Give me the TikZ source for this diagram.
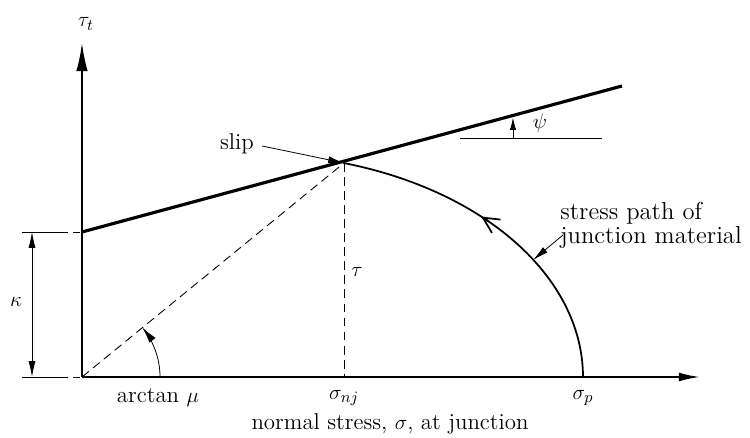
\documentclass[tikz,border=0pt]{standalone}
\usetikzlibrary{arrows.meta}
\begin{document}
\begin{tikzpicture}[x=0.02cm,y=-0.02cm,
  lbl/.style={inner sep=0pt,font=\fontsize{13}{15}\selectfont},
  axis/.style={line width=1.1pt},
  env/.style={line width=1.8pt},
  thin/.style={line width=0.45pt},
  dsh/.style={line width=0.5pt,dash pattern=on 5pt off 3pt},
  curve/.style={line width=1pt}]
\useasboundingbox (0,0) rectangle (750,438);
% key points
\coordinate (O) at (82,377);
\coordinate (Yt) at (82,43);
\coordinate (Xt) at (700,377);
\coordinate (A) at (82,232);
\coordinate (S) at (344,163);
\coordinate (E) at (622,86);
\coordinate (N) at (344,377);
\coordinate (P) at (583,377);
\coordinate (K1) at (22,232);
\coordinate (K2) at (22,377);
\coordinate (KA) at (32,232);
\coordinate (KB) at (32,377);
\coordinate (H1) at (460,138);
\coordinate (H2) at (602,138);
\coordinate (PsiB) at (513,138);
\coordinate (PsiT) at (513,117.5);
% axes
\draw[axis,-{Latex[length=16pt,width=6.5pt]}] (O) -- (Yt);
\draw[axis,-{Latex[length=12pt,width=5pt]}] (O) -- (Xt);
% envelope
\draw[env] (A) -- (E);
% dashed lines
\draw[dsh] (O) -- (S);
\draw[dsh] (S) -- (N);
% stress path (from sigma_p up to slip)
\draw[curve] plot[domain=0:73.6,samples=90,smooth] ({250+333*cos(\x)},{377-223*sin(\x)});
\coordinate (M1) at (488.9,221.5);
\coordinate (M2) at (481.3,216.6);
\draw[curve,-{Straight Barb[length=9pt,width=9pt]}] (M1) -- (M2);
% kappa dimension
\draw[thin] (K1) -- (68,232);
\draw[thin] (73,232) -- (80,232);
\draw[thin] (K2) -- (68,377);
\draw[thin] (73,377) -- (80,377);
\draw[thin,{Latex[length=9pt,width=4pt]}-{Latex[length=9pt,width=4pt]}] (KA) -- (KB);
\node[lbl] (kappa) at (16,302) {$\kappa$};
% psi
\draw[thin] (H1) -- (H2);
\draw[thin,-{Latex[length=7pt,width=3.5pt]}] (PsiB) -- (PsiT);
\node[lbl] (psi) at (540,123) {$\psi$};
% arctan mu arc
\draw[thin,-{Latex[length=9pt,width=4.5pt]}] plot[domain=0:39,samples=40,smooth] ({82+78*cos(\x)},{377-78*sin(\x)});
% slip
\node[lbl] (slip) at (237,144) {slip};
\draw[thin,-{Latex[length=9pt,width=4pt]}] (slip.east) ++(8,2) -- (S);
% stress path label
\node[lbl,align=left,anchor=west,font=\fontsize{14}{13.5}\selectfont] (sp) at (560,225) {stress path of\\junction material};
\coordinate (C) at (533,260);
\draw[thin,-{Latex[length=9pt,width=4pt]}] (563,235) -- (C);
% labels
\node[lbl] (tt) at (86,24) {$\tau_t$};
\node[lbl] (tau) at (357,272) {$\tau$};
\node[lbl] (am) at (158,398) {arctan $\mu$};
\node[lbl] (snj) at (344,398) {$\sigma_{nj}$};
\node[lbl] (sp2) at (583,398) {$\sigma_p$};
\node[lbl] (xl) at (390,424) {normal stress, $\sigma$, at junction};
\end{tikzpicture}
\end{document}
